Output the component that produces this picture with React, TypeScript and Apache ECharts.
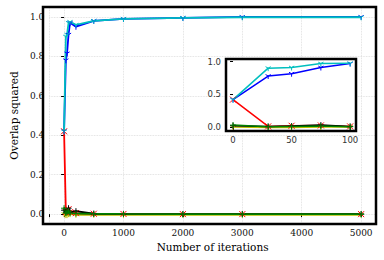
import React, { useEffect, useRef } from "react";
import * as echarts from "echarts";

const iterations = [0, 30, 50, 75, 100, 200, 500, 1000, 2000, 3000, 5000];
const cyanVals = [0.42, 0.9, 0.91, 0.97, 0.975, 0.96, 0.98, 0.99, 0.995, 0.998, 0.998];
const blueVals = [0.42, 0.78, 0.815, 0.91, 0.97, 0.95, 0.98, 0.99, 0.995, 1.0, 1.0];
const redVals = [0.42, 0.01, 0.02, 0.025, 0.01, 0.005, 0.002, 0.001, 0.0, 0.0, 0.0];
const greenVals = [0.03, 0.005, 0.01, 0.015, 0.005, 0.003, 0.002, 0.001, 0.0, 0.0, 0.0];
const blackVals = [0.02, 0.01, 0.015, 0.03, 0.01, 0.015, 0.002, 0.001, 0.0, 0.0, 0.0];
const oliveVals = [0.0, -0.005, -0.005, 0.0, 0.0, -0.003, -0.003, -0.003, -0.003, -0.003, -0.003];
const insetMaxIter = 100;

const TRI = "path://M0,0L0,6M0,0L-5.2,-3M0,0L5.2,-3M0,-6L0,-6";
const XM = "path://M-5,-5L5,5M-5,5L5,-5";
const PLUS = "path://M-5,0L5,0M0,-5L0,5";

const SERIF = "DejaVu Serif";
const SANS = "DejaVu Sans";

const MAIN = { left: 43, top: 7, width: 333, height: 217 };
const INSET = { left: 226, top: 59, width: 130, height: 72 };

function mk(vals: number[], color: string, symbol: string, inset: boolean) {
  const pts = iterations
    .map((x, i) => [x, vals[i]])
    .filter((p) => !inset || p[0] <= insetMaxIter);
  return {
    type: "line",
    xAxisIndex: inset ? 1 : 0,
    yAxisIndex: inset ? 1 : 0,
    z: inset ? 6 : 2,
    data: pts,
    symbol,
    symbolSize: 6,
    symbolKeepAspect: true,
    showSymbol: true,
    itemStyle: { color, borderColor: color, borderWidth: 1 },
    lineStyle: { color, width: inset ? 1.5 : 1.8 },
    silent: true,
  };
}

export default function App() {
  const ref = useRef<HTMLDivElement>(null);
  useEffect(() => {
    const chart = echarts.init(ref.current!, null, { renderer: "svg" });
    const groups: [number[], string, string][] = [
      [oliveVals, "#bfbf00", TRI],
      [redVals, "#ff0000", XM],
      [blackVals, "#000000", PLUS],
      [greenVals, "#008000", PLUS],
      [blueVals, "#0000ff", TRI],
      [cyanVals, "#00bfbf", TRI],
    ];
    const series: any[] = [];
    groups.forEach((g) => series.push(mk(g[0], g[1], g[2], false)));
    groups.forEach((g) => series.push(mk(g[0], g[1], g[2], true)));
    chart.setOption({
      animation: false,
      grid: [
        { ...MAIN, show: false },
        { ...INSET, z: 4, show: true, borderWidth: 0, backgroundColor: "#fff" },
      ],
      graphic: [
        {
          type: "rect", z: 100, silent: true,
          shape: { x: MAIN.left, y: MAIN.top, width: MAIN.width, height: MAIN.height },
          style: { fill: "none", stroke: "#000", lineWidth: 2.5 },
        },
        {
          type: "rect", z: 100, silent: true,
          shape: { x: INSET.left, y: INSET.top, width: INSET.width, height: INSET.height },
          style: { fill: "none", stroke: "#000", lineWidth: 2.5 },
        },
      ],
      xAxis: [
        {
          type: "value", gridIndex: 0, min: -250, max: 5250,
          name: "Number of iterations", nameLocation: "middle", nameGap: 16,
          nameTextStyle: { fontFamily: SERIF, fontSize: 10.5, color: "#000" },
          axisLine: { show: false },
          axisTick: { show: true, length: 3, lineStyle: { color: "#000" } },
          axisLabel: {
            fontFamily: SERIF, fontSize: 9, color: "#111", margin: 4,
            formatter: (v: number) => (v % 1000 === 0 ? String(v) : ""),
          },
          splitLine: { show: true, lineStyle: { color: "#d8d8d8", type: "dotted", width: 0.8 } },
        },
        {
          type: "value", gridIndex: 1, min: -6, max: 105, splitNumber: 2, z: 5,
          axisLine: { show: false },
          axisTick: { show: true, length: 3, lineStyle: { color: "#000" } },
          axisLabel: {
            fontFamily: SANS, fontSize: 8.5, color: "#333", margin: 4,
            formatter: (v: number) => (v % 50 === 0 ? String(v) : ""),
          },
          splitLine: { show: false },
        },
      ],
      yAxis: [
        {
          type: "value", gridIndex: 0, min: -0.05, max: 1.05,
          name: "Overlap squared", nameLocation: "middle", nameGap: 28,
          nameTextStyle: { fontFamily: SERIF, fontSize: 10.5, color: "#000" },
          axisLine: { show: false },
          axisTick: { show: true, length: 3, lineStyle: { color: "#000" } },
          axisLabel: {
            fontFamily: SERIF, fontSize: 9, color: "#111", margin: 5,
            formatter: (v: number) =>
              Math.abs(v * 5 - Math.round(v * 5)) < 1e-6 ? v.toFixed(1) : "",
          },
          splitLine: { show: true, lineStyle: { color: "#d8d8d8", type: "dotted", width: 0.8 } },
        },
        {
          type: "value", gridIndex: 1, min: -0.06, max: 1.04, splitNumber: 2, z: 5,
          axisLine: { show: false },
          axisTick: { show: true, length: 3, lineStyle: { color: "#000" } },
          axisLabel: {
            fontFamily: SANS, fontSize: 8.5, color: "#333", margin: 5,
            formatter: (v: number) =>
              Math.abs(v * 2 - Math.round(v * 2)) < 1e-6 ? v.toFixed(1) : "",
          },
          splitLine: { show: false },
        },
      ],
      series,
    });
    return () => chart.dispose();
  }, []);
  return <div ref={ref} style={{ width: 384, height: 260, position: "absolute", left: 0, top: 0 }} />;
}
